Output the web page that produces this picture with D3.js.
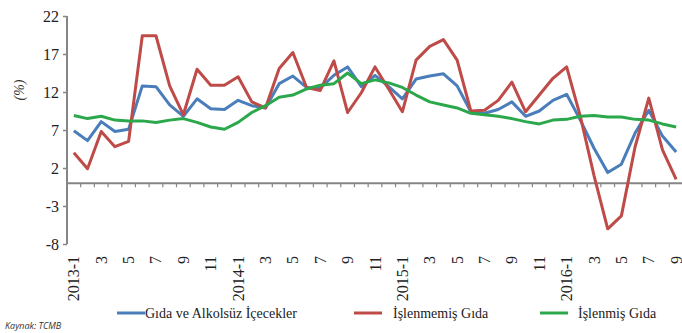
<!DOCTYPE html>
<html>
<head>
<meta charset="utf-8">
<script src="https://cdn.jsdelivr.net/npm/d3@7"></script>
<style>
  html, body { margin: 0; padding: 0; background: #fff; }
  svg { display: block; }
</style>
</head>
<body>
<svg id="chart" width="682" height="333"></svg>
<script>
// Monthly periods 2013-1 … 2016-9
const months = [];
for (let yr = 2013; yr <= 2016; yr++) {
  for (let m = 1; m <= 12; m++) {
    if (yr === 2016 && m > 9) break;
    months.push(yr + "-" + m);
  }
}

// Annual change (%)
const gidaAlkolsuz = [6.9, 5.6, 8.1, 6.8, 7.1, 12.8, 12.7, 10.3, 8.8, 11.1, 9.8, 9.7,
  10.9, 10.2, 9.9, 13.1, 14.1, 12.6, 12.5, 14.2, 15.3, 12.7, 14.2, 12.7,
  11.1, 13.7, 14.1, 14.4, 12.8, 9.4, 9.2, 9.7, 10.7, 8.8, 9.5, 10.9,
  11.7, 8.3, 4.6, 1.4, 2.5, 6.6, 9.6, 6.2, 4.1];
const islenmemis = [4.0, 1.9, 6.8, 4.8, 5.5, 19.4, 19.4, 12.8, 9.0, 15.0, 12.9, 12.9,
  14.0, 10.7, 9.9, 15.1, 17.2, 12.6, 12.2, 16.1, 9.3, 11.9, 15.3, 12.4,
  9.4, 16.2, 18.0, 18.9, 16.2, 9.5, 9.6, 10.9, 13.3, 9.4, 11.6, 13.8,
  15.3, 8.8, 1.0, -6.0, -4.3, 4.8, 11.2, 4.4, 0.5];
const islenmis = [8.9, 8.5, 8.8, 8.3, 8.2, 8.2, 8.0, 8.3, 8.5, 8.0, 7.4, 7.1,
  8.0, 9.3, 10.2, 11.3, 11.6, 12.4, 12.9, 13.1, 14.5, 13.1, 13.6, 13.2,
  12.6, 11.6, 10.7, 10.3, 9.9, 9.2, 9.0, 8.8, 8.5, 8.1, 7.8, 8.3,
  8.4, 8.8, 8.9, 8.7, 8.7, 8.4, 8.3, 7.8, 7.4];

const seriesNames = ["Gıda ve Alkolsüz İçecekler", "İşlenmemiş Gıda", "İşlenmiş Gıda"];
const seriesColors = ["#4a7ebb", "#be4b48", "#2aa84b"];
const yTicks = [-8, -3, 2, 7, 12, 17, 22];

const series = [gidaAlkolsuz, islenmemis, islenmis];

const svg = d3.select("#chart");
const plotLeft = 67, plotRight = 683, plotTop = 16, plotBottom = 244;

const x = d3.scaleBand().domain(months).range([plotLeft, plotRight]).padding(0);
const y = d3.scaleLinear().domain([-8, 22]).range([plotBottom, plotTop]);

const axisColor = "#868686";
const serif = "'Liberation Serif', 'Times New Roman', serif";

// Y axis (plain hyphen for negatives)
const yAxis = svg.append("g")
  .attr("transform", `translate(${plotLeft},0)`)
  .call(d3.axisLeft(y).tickValues(yTicks).tickSize(4).tickPadding(4).tickFormat(d => String(d)));
yAxis.select(".domain").attr("stroke", axisColor).attr("stroke-width", 2).attr("d", `M0,${plotTop}V${plotBottom}`);
yAxis.selectAll(".tick line").attr("stroke", axisColor).attr("stroke-width", 1.5);
yAxis.selectAll(".tick text")
  .attr("font-family", serif).attr("font-size", 16).attr("fill", "#222");

// Zero line with ticks between months
const zeroY = y(0);
svg.append("line")
  .attr("x1", plotLeft).attr("x2", plotRight)
  .attr("y1", zeroY).attr("y2", zeroY)
  .attr("stroke", axisColor).attr("stroke-width", 2);
svg.append("g").selectAll("line")
  .data(months.slice(1))
  .join("line")
  .attr("x1", d => x(d)).attr("x2", d => x(d))
  .attr("y1", zeroY).attr("y2", zeroY + 4)
  .attr("stroke", axisColor).attr("stroke-width", 1.2);

// Month labels (every second month)
const labelled = months.filter((d, i) => i % 2 === 0);
svg.append("g").selectAll("text")
  .data(labelled)
  .join("text")
  .attr("transform", d => `translate(${x(d) + x.bandwidth() / 2},256) rotate(-90)`)
  .attr("text-anchor", "end")
  .attr("dominant-baseline", "central")
  .attr("font-family", serif)
  .attr("font-size", 16)
  .attr("fill", "#222")
  .text(d => d.endsWith("-1") ? d : d.split("-")[1]);

// Y axis title
svg.append("text")
  .attr("transform", "translate(19,90) rotate(-90)")
  .attr("text-anchor", "middle")
  .attr("dominant-baseline", "central")
  .attr("font-family", serif)
  .attr("font-style", "italic")
  .attr("font-size", 14)
  .attr("fill", "#333")
  .text("(%)");

// Lines
const line = d3.line()
  .x((d, i) => x(months[i]) + x.bandwidth() / 2)
  .y(d => y(d));

svg.append("g").selectAll("path")
  .data(series)
  .join("path")
  .attr("d", d => line(d))
  .attr("fill", "none")
  .attr("stroke", (d, i) => seriesColors[i])
  .attr("stroke-width", 3)
  .attr("stroke-linejoin", "round");

// Legend
const legendItems = [
  { x1: 117, tx: 145 },
  { x1: 354, tx: 393 },
  { x1: 540, tx: 578 }
];
const legend = svg.append("g");
legendItems.forEach((it, i) => {
  legend.append("line")
    .attr("x1", it.x1).attr("x2", it.x1 + 28)
    .attr("y1", 313).attr("y2", 313)
    .attr("stroke", seriesColors[i]).attr("stroke-width", 3);
  legend.append("text")
    .attr("x", it.tx).attr("y", 313)
    .attr("dominant-baseline", "central")
    .attr("font-family", serif)
    .attr("font-size", 14)
    .attr("fill", "#222")
    .text(seriesNames[i]);
});

// Source note
svg.append("text")
  .attr("x", 5).attr("y", 329)
  .attr("font-family", "'Open Sans', 'Liberation Sans', sans-serif")
  .attr("font-style", "italic")
  .attr("font-size", 9)
  .attr("fill", "#333")
  .text("Kaynak: TCMB");
</script>
</body>
</html>
